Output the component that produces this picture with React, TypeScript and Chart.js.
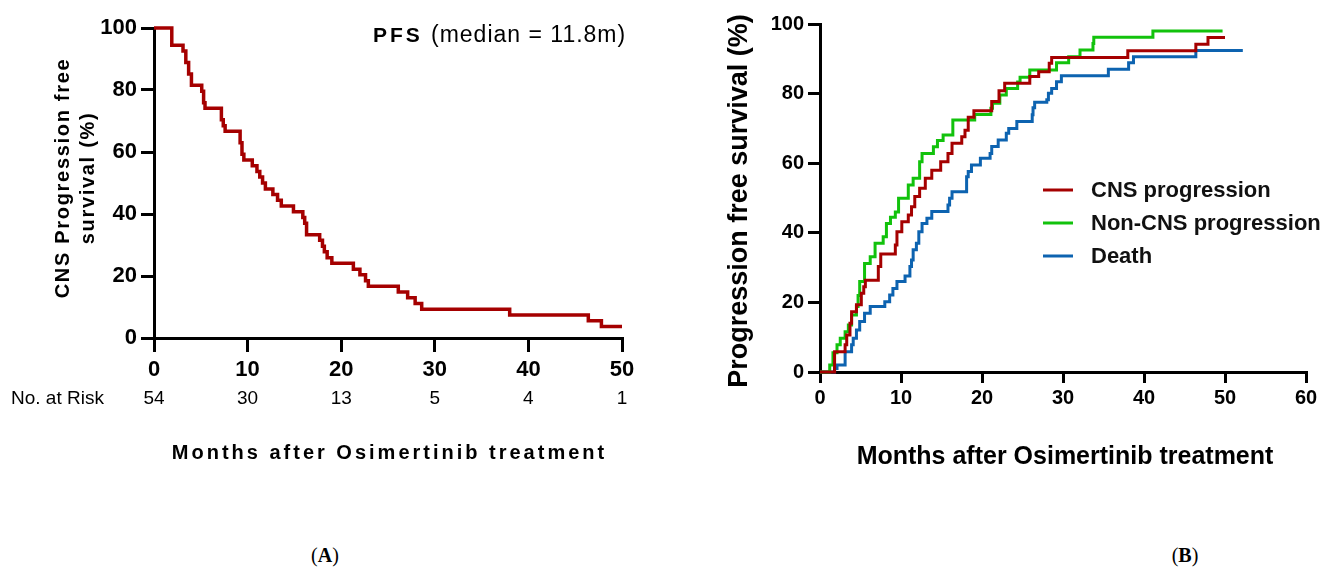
import React, { useEffect, useRef } from 'react';
import { Chart, registerables } from 'chart.js';

Chart.register(...registerables);

// ---------- Panel A: CNS progression-free survival ----------
const pfsMonths = [0, 1.9, 3.1, 3.4, 3.7, 4.0, 5.1, 5.3, 5.45, 7.2, 7.4, 7.6, 9.2, 9.4, 9.6, 10.5, 11.0, 11.3, 11.6, 11.9, 12.7, 13.2, 13.6, 14.9, 15.9, 16.1, 16.3, 17.7, 18.0, 18.2, 18.5, 19.0, 21.3, 22.0, 22.6, 22.9, 26.1, 27.1, 27.9, 28.6, 38.0, 46.4, 47.8, 50.0];
const pfsSurvival = [100, 94.4, 92.6, 88.9, 85.2, 81.5, 79.6, 75.9, 74.1, 70.4, 68.5, 66.7, 63.0, 59.3, 57.4, 55.6, 53.7, 51.9, 50.0, 48.1, 46.3, 44.4, 42.6, 40.7, 38.9, 37.0, 33.3, 31.5, 29.6, 27.8, 25.9, 24.1, 22.2, 20.4, 18.5, 16.7, 14.8, 13.0, 11.1, 9.3, 7.4, 5.6, 3.7, 3.7];
const riskMonths = [0, 10, 20, 30, 40, 50];
const riskCounts = [54, 30, 13, 5, 4, 1];

// ---------- Panel B: cumulative curves ----------
const cnsMonths = [0, 1.8, 3.1, 3.3, 3.7, 3.9, 4.5, 5.1, 5.4, 5.6, 7.2, 7.5, 9.3, 9.5, 10.1, 10.9, 11.3, 11.7, 12.3, 13.0, 13.8, 14.9, 15.8, 16.3, 17.5, 17.9, 18.3, 19.0, 21.2, 22.1, 22.8, 25.9, 27.0, 28.3, 28.6, 38.0, 46.4, 47.9, 50.0];
const cnsPct = [0, 5.8, 7.8, 10.6, 14.0, 17.3, 19.3, 22.6, 24.5, 26.4, 30.3, 33.9, 36.5, 40.3, 43.2, 45.1, 47.5, 50.4, 52.8, 55.7, 58.0, 60.4, 62.8, 65.7, 67.6, 69.5, 73.2, 75.1, 77.7, 80.8, 83.0, 84.9, 86.3, 88.7, 90.4, 92.3, 94.2, 96.1, 96.1];

const nonCnsMonths = [0, 1.2, 1.6, 2.1, 2.5, 3.1, 3.5, 3.9, 4.5, 4.7, 4.9, 5.5, 6.2, 6.8, 7.8, 8.2, 8.7, 9.3, 9.7, 10.9, 11.5, 12.3, 12.6, 14.0, 14.5, 15.2, 16.4, 19.1, 21.1, 21.3, 22.2, 23.0, 24.4, 24.7, 25.9, 29.2, 30.7, 32.1, 33.7, 33.8, 41.1, 49.7];
const nonCnsPct = [0, 2.0, 5.5, 7.8, 9.7, 11.6, 13.5, 16.4, 18.8, 22.0, 26.0, 31.2, 33.1, 37.0, 38.9, 42.7, 44.5, 46.0, 49.9, 53.7, 55.7, 60.4, 62.8, 64.7, 66.5, 68.1, 72.4, 74.0, 75.8, 77.2, 79.6, 81.5, 83.3, 84.7, 86.8, 88.9, 90.6, 92.5, 94.4, 96.2, 98.0, 98.0];

const deathMonths = [0, 1.8, 2.1, 3.1, 3.9, 4.1, 4.5, 4.9, 5.5, 6.2, 8.0, 8.6, 9.0, 9.5, 10.5, 11.1, 11.3, 11.5, 11.9, 12.2, 12.6, 13.2, 13.8, 15.8, 16.0, 16.3, 18.1, 18.3, 18.7, 19.8, 21.0, 21.2, 22.0, 23.0, 23.3, 24.3, 26.2, 26.3, 26.5, 28.0, 28.2, 28.6, 29.2, 29.8, 35.6, 38.1, 38.7, 46.4, 52.2];
const deathPct = [0, 1.0, 2.0, 5.8, 7.8, 9.7, 12.1, 14.5, 16.9, 18.8, 20.2, 22.1, 24.0, 26.0, 27.6, 30.3, 32.2, 35.1, 37.0, 40.3, 42.7, 44.2, 46.1, 48.0, 49.9, 51.8, 56.1, 57.6, 59.5, 61.4, 62.8, 64.8, 66.7, 68.6, 70.0, 72.0, 73.9, 75.9, 77.5, 78.2, 80.1, 81.5, 83.4, 85.1, 87.0, 88.9, 90.6, 92.4, 92.4];

const seriesLabelsB = ['CNS progression', 'Non-CNS progression', 'Death'];
const seriesColorsB = ['#a50000', '#12c20c', '#0d63b0'];

const toPoints = (xs: number[], ys: number[]) => xs.map((x, i) => ({ x, y: ys[i] }));

const SANS = '"Liberation Sans", Arial, sans-serif';

const axisCommon = (tickSize: number, tickLen: number, pad: number) => ({
  type: 'linear' as const,
  border: { display: true, color: '#000', width: 3 },
  grid: { display: true, drawOnChartArea: false, drawTicks: true, tickLength: tickLen, color: '#000', lineWidth: 3 },
  ticks: { color: '#000', font: { family: SANS, size: tickSize, weight: 'bold' as const }, padding: pad, stepSize: 10 },
});

function ChartA() {
  const ref = useRef<HTMLCanvasElement | null>(null);
  useEffect(() => {
    if (!ref.current) return;
    const plugin = {
      id: 'textA',
      afterDraw(chart: any) {
        const ctx = chart.ctx as CanvasRenderingContext2D;
        const xs = chart.scales.x;
        const ca = chart.chartArea;
        ctx.save();
        ctx.fillStyle = '#000';
        ctx.textBaseline = 'middle';
        ctx.font = `19px ${SANS}`;
        ctx.textAlign = 'left';
        ctx.fillText('No. at Risk', 11, 399);
        ctx.textAlign = 'center';
        riskMonths.forEach((m, i) => ctx.fillText(String(riskCounts[i]), xs.getPixelForValue(m), 399));
        // x title
        (ctx as any).letterSpacing = '3px';
        ctx.font = `bold 20px ${SANS}`;
        ctx.fillText('Months after Osimertinib treatment', (ca.left + ca.right) / 2 + 1.5, 453);
        // PFS label
        ctx.textBaseline = 'alphabetic';
        ctx.textAlign = 'left';
        ctx.font = `bold 21px ${SANS}`;
        ctx.fillText('PFS', 373, 42);
        (ctx as any).letterSpacing = '1px';
        ctx.font = `23px ${SANS}`;
        ctx.fillText('(median = 11.8m)', 431, 42);
        // y title
        ctx.textBaseline = 'middle';
        ctx.textAlign = 'center';
        (ctx as any).letterSpacing = '1.7px';
        ctx.font = `bold 20px ${SANS}`;
        ctx.translate(63, 178);
        ctx.rotate(-Math.PI / 2);
        ctx.fillText('CNS Progression free', 0, 0);
        ctx.fillText('survival (%)', 0, 25);
        ctx.restore();
      },
    };
    const xAx: any = axisCommon(22, 14, 5);
    xAx.min = 0; xAx.max = 50;
    xAx.afterFit = (s: any) => { s.height = 142; };
    const yAx: any = axisCommon(22, 13, 4);
    yAx.min = 0; yAx.max = 100; yAx.ticks.stepSize = 20;
    yAx.afterFit = (s: any) => { s.width = 154; };
    const chart = new Chart(ref.current, {
      type: 'line',
      data: {
        datasets: [{
          label: 'CNS PFS',
          data: toPoints(pfsMonths, pfsSurvival),
          borderColor: '#a50000',
          borderWidth: 3.5,
          stepped: true,
          pointRadius: 0,
          fill: false,
          clip: false as any,
        }],
      },
      options: {
        animation: false,
        responsive: false,
        maintainAspectRatio: false,
        layout: { padding: { left: 0, right: 38, top: 28, bottom: 0 } },
        plugins: { legend: { display: false }, tooltip: { enabled: false } },
        scales: { x: xAx, y: yAx },
      },
      plugins: [plugin],
    });
    return () => chart.destroy();
  }, []);
  return <canvas ref={ref} width={660} height={480} style={{ position: 'absolute', left: 0, top: 0 }} />;
}

function ChartB() {
  const ref = useRef<HTMLCanvasElement | null>(null);
  useEffect(() => {
    if (!ref.current) return;
    const plugin = {
      id: 'textB',
      afterDraw(chart: any) {
        const ctx = chart.ctx as CanvasRenderingContext2D;
        const ca = chart.chartArea;
        ctx.save();
        ctx.fillStyle = '#000';
        ctx.textBaseline = 'middle';
        ctx.textAlign = 'center';
        ctx.font = `bold 25px ${SANS}`;
        ctx.fillText('Months after Osimertinib treatment', (ca.left + ca.right) / 2 + 2, 457);
        // legend
        ctx.textAlign = 'left';
        ctx.font = `bold 22px ${SANS}`;
        chart.data.datasets.forEach((ds: any, i: number) => {
          const y = 190 + i * 33;
          ctx.strokeStyle = ds.borderColor;
          ctx.lineWidth = 3;
          ctx.beginPath();
          ctx.moveTo(383, y);
          ctx.lineTo(413, y);
          ctx.stroke();
          ctx.fillStyle = '#111';
          ctx.fillText(ds.label, 431, y + 1);
        });
        // y title
        ctx.fillStyle = '#000';
        ctx.textAlign = 'center';
        ctx.font = `bold 27px ${SANS}`;
        ctx.translate(80, 201);
        ctx.rotate(-Math.PI / 2);
        ctx.fillText('Progression free survival (%)', 0, 0);
        ctx.restore();
      },
    };
    const xAx: any = axisCommon(20, 11, 3);
    xAx.min = 0; xAx.max = 60;
    xAx.afterFit = (s: any) => { s.height = 108; };
    const yAx: any = axisCommon(20, 12, 4);
    yAx.min = 0; yAx.max = 100; yAx.ticks.stepSize = 20;
    yAx.afterFit = (s: any) => { s.width = 160; };
    const series = [toPoints(cnsMonths, cnsPct), toPoints(nonCnsMonths, nonCnsPct), toPoints(deathMonths, deathPct)];
    const chart = new Chart(ref.current, {
      type: 'line',
      data: {
        datasets: series.map((d, i) => ({
          label: seriesLabelsB[i],
          data: d,
          borderColor: seriesColorsB[i],
          borderWidth: 3,
          stepped: true,
          pointRadius: 0,
          fill: false,
          clip: false as any,
        })),
      },
      options: {
        animation: false,
        responsive: false,
        maintainAspectRatio: false,
        layout: { padding: { left: 0, right: 16, top: 24, bottom: 0 } },
        plugins: { legend: { display: false }, tooltip: { enabled: false } },
        scales: { x: xAx, y: yAx },
      },
      plugins: [plugin],
    });
    return () => chart.destroy();
  }, []);
  return <canvas ref={ref} width={662} height={480} style={{ position: 'absolute', left: 660, top: 0 }} />;
}

const captionStyle: React.CSSProperties = {
  position: 'absolute',
  top: 541,
  width: 80,
  textAlign: 'center',
  fontFamily: '"Liberation Serif", "Times New Roman", serif',
  fontSize: 20,
  color: '#000',
  lineHeight: '28px',
};

export default function App() {
  return (
    <div style={{ position: 'fixed', left: 0, top: 0, width: 1322, height: 569, background: '#fff', overflow: 'hidden' }}>
      <ChartA />
      <ChartB />
      <div style={{ ...captionStyle, left: 285 }}>(<b>A</b>)</div>
      <div style={{ ...captionStyle, left: 1145 }}>(<b>B</b>)</div>
    </div>
  );
}
